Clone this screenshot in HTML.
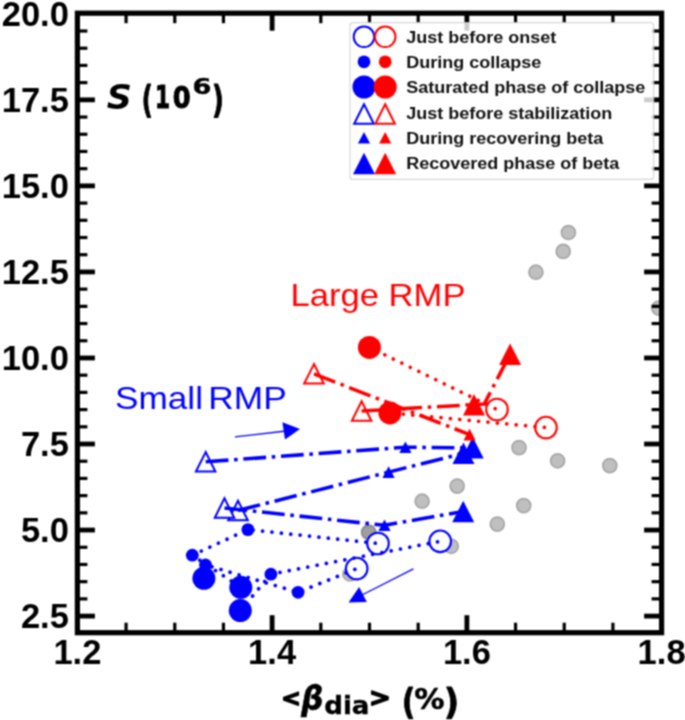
<!DOCTYPE html>
<html lang="en"><head><meta charset="utf-8"><title>S vs beta_dia</title>
<style>
html,body{margin:0;padding:0;background:#fff;}
body{width:685px;height:720px;overflow:hidden;}
svg{display:block;}
.tl{font-family:"Liberation Sans",Arial,sans-serif;font-weight:bold;font-size:34.5px;fill:#000;}
.lg{font-family:"Liberation Sans",Arial,sans-serif;font-weight:bold;font-size:15.6px;fill:#111;}
.ann{font-family:"Liberation Sans",Arial,sans-serif;font-size:32px;}
.mt{font-family:"DejaVu Sans",sans-serif;font-weight:bold;font-size:30px;fill:#000;}
.mi{font-style:oblique;}
</style></head><body>
<svg width="685" height="720" viewBox="0 0 685 720">
<defs><filter id="soft" x="0" y="0" width="100%" height="100%" filterUnits="objectBoundingBox" color-interpolation-filters="sRGB"><feConvolveMatrix order="3" kernelMatrix="1 2 1 2 4 2 1 2 1" divisor="16" edgeMode="duplicate" preserveAlpha="false"/></filter></defs>
<g filter="url(#soft)">
<rect width="685" height="720" fill="#fff"/>
<defs><clipPath id="axclip"><rect x="77.40" y="13.20" width="584.20" height="619.50"/></clipPath></defs>
<g id="graydots" clip-path="url(#axclip)" fill="#808080" fill-opacity="0.5" stroke="#808080" stroke-opacity="0.62" stroke-width="1.5"><circle cx="422.1" cy="501.2" r="7.1"/><circle cx="457.2" cy="486.1" r="7.1"/><circle cx="523.7" cy="505.6" r="7.1"/><circle cx="497.3" cy="524.1" r="7.1"/><circle cx="451.3" cy="546.3" r="7.1"/><circle cx="519.0" cy="447.6" r="7.1"/><circle cx="557.6" cy="460.8" r="7.1"/><circle cx="568.4" cy="232.5" r="7.1"/><circle cx="563.2" cy="251.4" r="7.1"/><circle cx="535.9" cy="272.2" r="7.1"/><circle cx="609.8" cy="465.6" r="7.1"/><circle cx="368.5" cy="532.1" r="7.1"/><circle cx="368.9" cy="532.5" r="7.1"/><circle cx="349.9" cy="574.0" r="7.1"/><circle cx="658.8" cy="308.1" r="7.1"/></g>
<g id="blue">
<circle cx="378.0" cy="543.5" r="10.8" fill="#fff" stroke="#0000ff" stroke-width="2.1"/>
<circle cx="440.2" cy="541.3" r="10.8" fill="#fff" stroke="#0000ff" stroke-width="2.1"/>
<circle cx="356.7" cy="568.6" r="10.8" fill="#fff" stroke="#0000ff" stroke-width="2.1"/>
<circle cx="192.3" cy="555.2" r="6.4" fill="#0000ff"/>
<circle cx="205.5" cy="565.0" r="6.4" fill="#0000ff"/>
<circle cx="247.9" cy="529.6" r="6.4" fill="#0000ff"/>
<circle cx="270.9" cy="574.2" r="6.4" fill="#0000ff"/>
<circle cx="298.1" cy="592.3" r="6.4" fill="#0000ff"/>
<circle cx="203.9" cy="578.3" r="11.5" fill="#0000ff"/>
<circle cx="240.8" cy="587.3" r="11.5" fill="#0000ff"/>
<circle cx="240.3" cy="610.6" r="11.5" fill="#0000ff"/>
<polygon points="205.7,452.1 195.9,471.6 215.4,471.6" fill="#fff" stroke="#0000ff" stroke-width="2.0" stroke-linejoin="miter"/>
<polygon points="238.0,500.8 228.2,520.2 247.8,520.2" fill="#fff" stroke="#0000ff" stroke-width="2.0" stroke-linejoin="miter"/>
<polygon points="224.5,498.2 214.8,517.8 234.2,517.8" fill="#fff" stroke="#0000ff" stroke-width="2.0" stroke-linejoin="miter"/>
<polygon points="405.4,441.4 399.3,453.0 411.5,453.0" fill="#0000ff"/>
<polygon points="388.6,466.3 382.5,477.9 394.7,477.9" fill="#0000ff"/>
<polygon points="384.5,519.5 378.4,531.1 390.6,531.1" fill="#0000ff"/>
<polygon points="463.5,442.6 452.5,464.1 474.5,464.1" fill="#0000ff"/>
<polygon points="472.7,437.1 461.7,458.6 483.7,458.6" fill="#0000ff"/>
<polygon points="463.2,500.8 452.2,522.2 474.2,522.2" fill="#0000ff"/>
<polyline points="378.0,543.5 247.9,529.6 192.3,555.2 240.8,587.3" fill="none" stroke="#0000ff" stroke-width="3.7" stroke-linecap="round" stroke-dasharray="0.01 9.43" stroke-dashoffset="-2.8"/>
<polyline points="356.7,568.6 298.1,592.3 205.5,565.0 203.9,578.3" fill="none" stroke="#0000ff" stroke-width="3.7" stroke-linecap="round" stroke-dasharray="0.01 9.43" stroke-dashoffset="-2.0"/>
<polyline points="440.2,541.3 270.9,574.2 240.3,610.6" fill="none" stroke="#0000ff" stroke-width="3.7" stroke-linecap="round" stroke-dasharray="0.01 9.43" stroke-dashoffset="-2.7"/>
<polyline points="205.7,461.8 405.4,447.2 472.7,447.9" fill="none" stroke="#0000ff" stroke-width="3.56" stroke-dasharray="22.78 5.70 3.56 5.70" stroke-dashoffset="0" stroke-linejoin="round"/>
<polyline points="238.0,510.5 388.6,472.1 463.5,453.3" fill="none" stroke="#0000ff" stroke-width="3.56" stroke-dasharray="22.78 5.70 3.56 5.70" stroke-dashoffset="0" stroke-linejoin="round"/>
<polyline points="224.5,508.0 384.5,525.3 463.2,511.5" fill="none" stroke="#0000ff" stroke-width="3.56" stroke-dasharray="22.78 5.70 3.56 5.70" stroke-dashoffset="0" stroke-linejoin="round"/>
</g>
<g id="red">
<circle cx="497.0" cy="409.5" r="10.8" fill="#fff" stroke="#ff0000" stroke-width="2.1"/>
<circle cx="546.0" cy="427.6" r="10.8" fill="#fff" stroke="#ff0000" stroke-width="2.1"/>
<circle cx="369.4" cy="347.4" r="11.5" fill="#ff0000"/>
<circle cx="389.9" cy="412.9" r="11.5" fill="#ff0000"/>
<polygon points="314.0,364.1 304.2,383.6 323.8,383.6" fill="#fff" stroke="#ff0000" stroke-width="2.0" stroke-linejoin="miter"/>
<polygon points="361.6,401.2 351.9,420.8 371.4,420.8" fill="#fff" stroke="#ff0000" stroke-width="2.0" stroke-linejoin="miter"/>
<polygon points="469.6,428.8 463.5,440.4 475.7,440.4" fill="#ff0000"/>
<polygon points="510.1,343.4 499.1,364.9 521.1,364.9" fill="#ff0000"/>
<polygon points="474.0,393.9 463.0,415.4 485.0,415.4" fill="#ff0000"/>
<polyline points="369.4,347.4 497.0,409.5" fill="none" stroke="#ff0000" stroke-width="3.7" stroke-linecap="round" stroke-dasharray="0.01 9.43" stroke-dashoffset="1.7"/>
<polyline points="389.9,412.9 546.0,427.6" fill="none" stroke="#ff0000" stroke-width="3.7" stroke-linecap="round" stroke-dasharray="0.01 9.43" stroke-dashoffset="-4.1"/>
<polyline points="314.0,373.8 469.6,434.6" fill="none" stroke="#ff0000" stroke-width="3.56" stroke-dasharray="22.78 5.70 3.56 5.70" stroke-dashoffset="0" stroke-linejoin="round"/>
<polyline points="361.6,411.0 484.3,404.0 510.1,354.1" fill="none" stroke="#ff0000" stroke-width="3.56" stroke-dasharray="22.78 5.70 3.56 5.70" stroke-dashoffset="0" stroke-linejoin="round"/>
</g>
<g id="arrows" fill="#0000ff" stroke="#0000ff">
<line x1="234.9" y1="436.9" x2="286" y2="431" stroke-width="1.3"/>
<polygon points="300.0,429.0 282.4,422.3 285.0,439.4" stroke="none"/>
<line x1="413.4" y1="568.9" x2="362" y2="595" stroke-width="1.3"/>
<polygon points="348.5,602.4 366.8,602.1 359.2,586.9" stroke="none"/>
</g>
<g id="ticks" stroke="#000"><line x1="77.40" y1="616.09" x2="94.90" y2="616.09" stroke-width="4.8"/><line x1="661.60" y1="616.09" x2="644.10" y2="616.09" stroke-width="4.8"/><line x1="77.40" y1="598.88" x2="87.40" y2="598.88" stroke-width="3.2"/><line x1="661.60" y1="598.88" x2="651.60" y2="598.88" stroke-width="3.2"/><line x1="77.40" y1="581.68" x2="87.40" y2="581.68" stroke-width="3.2"/><line x1="661.60" y1="581.68" x2="651.60" y2="581.68" stroke-width="3.2"/><line x1="77.40" y1="564.47" x2="87.40" y2="564.47" stroke-width="3.2"/><line x1="661.60" y1="564.47" x2="651.60" y2="564.47" stroke-width="3.2"/><line x1="77.40" y1="547.26" x2="87.40" y2="547.26" stroke-width="3.2"/><line x1="661.60" y1="547.26" x2="651.60" y2="547.26" stroke-width="3.2"/><line x1="77.40" y1="530.05" x2="94.90" y2="530.05" stroke-width="4.8"/><line x1="661.60" y1="530.05" x2="644.10" y2="530.05" stroke-width="4.8"/><line x1="77.40" y1="512.84" x2="87.40" y2="512.84" stroke-width="3.2"/><line x1="661.60" y1="512.84" x2="651.60" y2="512.84" stroke-width="3.2"/><line x1="77.40" y1="495.63" x2="87.40" y2="495.63" stroke-width="3.2"/><line x1="661.60" y1="495.63" x2="651.60" y2="495.63" stroke-width="3.2"/><line x1="77.40" y1="478.43" x2="87.40" y2="478.43" stroke-width="3.2"/><line x1="661.60" y1="478.43" x2="651.60" y2="478.43" stroke-width="3.2"/><line x1="77.40" y1="461.22" x2="87.40" y2="461.22" stroke-width="3.2"/><line x1="661.60" y1="461.22" x2="651.60" y2="461.22" stroke-width="3.2"/><line x1="77.40" y1="444.01" x2="94.90" y2="444.01" stroke-width="4.8"/><line x1="661.60" y1="444.01" x2="644.10" y2="444.01" stroke-width="4.8"/><line x1="77.40" y1="426.80" x2="87.40" y2="426.80" stroke-width="3.2"/><line x1="661.60" y1="426.80" x2="651.60" y2="426.80" stroke-width="3.2"/><line x1="77.40" y1="409.59" x2="87.40" y2="409.59" stroke-width="3.2"/><line x1="661.60" y1="409.59" x2="651.60" y2="409.59" stroke-width="3.2"/><line x1="77.40" y1="392.38" x2="87.40" y2="392.38" stroke-width="3.2"/><line x1="661.60" y1="392.38" x2="651.60" y2="392.38" stroke-width="3.2"/><line x1="77.40" y1="375.18" x2="87.40" y2="375.18" stroke-width="3.2"/><line x1="661.60" y1="375.18" x2="651.60" y2="375.18" stroke-width="3.2"/><line x1="77.40" y1="357.97" x2="94.90" y2="357.97" stroke-width="4.8"/><line x1="661.60" y1="357.97" x2="644.10" y2="357.97" stroke-width="4.8"/><line x1="77.40" y1="340.76" x2="87.40" y2="340.76" stroke-width="3.2"/><line x1="661.60" y1="340.76" x2="651.60" y2="340.76" stroke-width="3.2"/><line x1="77.40" y1="323.55" x2="87.40" y2="323.55" stroke-width="3.2"/><line x1="661.60" y1="323.55" x2="651.60" y2="323.55" stroke-width="3.2"/><line x1="77.40" y1="306.34" x2="87.40" y2="306.34" stroke-width="3.2"/><line x1="661.60" y1="306.34" x2="651.60" y2="306.34" stroke-width="3.2"/><line x1="77.40" y1="289.13" x2="87.40" y2="289.13" stroke-width="3.2"/><line x1="661.60" y1="289.13" x2="651.60" y2="289.13" stroke-width="3.2"/><line x1="77.40" y1="271.93" x2="94.90" y2="271.93" stroke-width="4.8"/><line x1="661.60" y1="271.93" x2="644.10" y2="271.93" stroke-width="4.8"/><line x1="77.40" y1="254.72" x2="87.40" y2="254.72" stroke-width="3.2"/><line x1="661.60" y1="254.72" x2="651.60" y2="254.72" stroke-width="3.2"/><line x1="77.40" y1="237.51" x2="87.40" y2="237.51" stroke-width="3.2"/><line x1="661.60" y1="237.51" x2="651.60" y2="237.51" stroke-width="3.2"/><line x1="77.40" y1="220.30" x2="87.40" y2="220.30" stroke-width="3.2"/><line x1="661.60" y1="220.30" x2="651.60" y2="220.30" stroke-width="3.2"/><line x1="77.40" y1="203.09" x2="87.40" y2="203.09" stroke-width="3.2"/><line x1="661.60" y1="203.09" x2="651.60" y2="203.09" stroke-width="3.2"/><line x1="77.40" y1="185.88" x2="94.90" y2="185.88" stroke-width="4.8"/><line x1="661.60" y1="185.88" x2="644.10" y2="185.88" stroke-width="4.8"/><line x1="77.40" y1="168.68" x2="87.40" y2="168.68" stroke-width="3.2"/><line x1="661.60" y1="168.68" x2="651.60" y2="168.68" stroke-width="3.2"/><line x1="77.40" y1="151.47" x2="87.40" y2="151.47" stroke-width="3.2"/><line x1="661.60" y1="151.47" x2="651.60" y2="151.47" stroke-width="3.2"/><line x1="77.40" y1="134.26" x2="87.40" y2="134.26" stroke-width="3.2"/><line x1="661.60" y1="134.26" x2="651.60" y2="134.26" stroke-width="3.2"/><line x1="77.40" y1="117.05" x2="87.40" y2="117.05" stroke-width="3.2"/><line x1="661.60" y1="117.05" x2="651.60" y2="117.05" stroke-width="3.2"/><line x1="77.40" y1="99.84" x2="94.90" y2="99.84" stroke-width="4.8"/><line x1="661.60" y1="99.84" x2="644.10" y2="99.84" stroke-width="4.8"/><line x1="77.40" y1="82.63" x2="87.40" y2="82.63" stroke-width="3.2"/><line x1="661.60" y1="82.63" x2="651.60" y2="82.63" stroke-width="3.2"/><line x1="77.40" y1="65.43" x2="87.40" y2="65.43" stroke-width="3.2"/><line x1="661.60" y1="65.43" x2="651.60" y2="65.43" stroke-width="3.2"/><line x1="77.40" y1="48.22" x2="87.40" y2="48.22" stroke-width="3.2"/><line x1="661.60" y1="48.22" x2="651.60" y2="48.22" stroke-width="3.2"/><line x1="77.40" y1="31.01" x2="87.40" y2="31.01" stroke-width="3.2"/><line x1="661.60" y1="31.01" x2="651.60" y2="31.01" stroke-width="3.2"/><line x1="126.08" y1="632.70" x2="126.08" y2="622.70" stroke-width="3.2"/><line x1="126.08" y1="13.20" x2="126.08" y2="23.20" stroke-width="3.2"/><line x1="174.77" y1="632.70" x2="174.77" y2="622.70" stroke-width="3.2"/><line x1="174.77" y1="13.20" x2="174.77" y2="23.20" stroke-width="3.2"/><line x1="223.45" y1="632.70" x2="223.45" y2="622.70" stroke-width="3.2"/><line x1="223.45" y1="13.20" x2="223.45" y2="23.20" stroke-width="3.2"/><line x1="272.13" y1="632.70" x2="272.13" y2="615.20" stroke-width="4.8"/><line x1="272.13" y1="13.20" x2="272.13" y2="30.70" stroke-width="4.8"/><line x1="320.82" y1="632.70" x2="320.82" y2="622.70" stroke-width="3.2"/><line x1="320.82" y1="13.20" x2="320.82" y2="23.20" stroke-width="3.2"/><line x1="369.50" y1="632.70" x2="369.50" y2="622.70" stroke-width="3.2"/><line x1="369.50" y1="13.20" x2="369.50" y2="23.20" stroke-width="3.2"/><line x1="418.18" y1="632.70" x2="418.18" y2="622.70" stroke-width="3.2"/><line x1="418.18" y1="13.20" x2="418.18" y2="23.20" stroke-width="3.2"/><line x1="466.87" y1="632.70" x2="466.87" y2="615.20" stroke-width="4.8"/><line x1="466.87" y1="13.20" x2="466.87" y2="30.70" stroke-width="4.8"/><line x1="515.55" y1="632.70" x2="515.55" y2="622.70" stroke-width="3.2"/><line x1="515.55" y1="13.20" x2="515.55" y2="23.20" stroke-width="3.2"/><line x1="564.23" y1="632.70" x2="564.23" y2="622.70" stroke-width="3.2"/><line x1="564.23" y1="13.20" x2="564.23" y2="23.20" stroke-width="3.2"/><line x1="612.92" y1="632.70" x2="612.92" y2="622.70" stroke-width="3.2"/><line x1="612.92" y1="13.20" x2="612.92" y2="23.20" stroke-width="3.2"/></g>
<rect id="spines" x="77.40" y="13.20" width="584.20" height="619.50" fill="none" stroke="#000" stroke-width="5.2"/>
<g id="ticklabels"><text class="tl" transform="translate(68.9,25.5) scale(1.0,1)" text-anchor="end">20.0</text><text class="tl" transform="translate(68.9,111.5) scale(1.0,1)" text-anchor="end">17.5</text><text class="tl" transform="translate(68.9,197.6) scale(1.0,1)" text-anchor="end">15.0</text><text class="tl" transform="translate(68.9,283.6) scale(1.0,1)" text-anchor="end">12.5</text><text class="tl" transform="translate(68.9,369.7) scale(1.0,1)" text-anchor="end">10.0</text><text class="tl" transform="translate(68.9,455.7) scale(1.0,1)" text-anchor="end">7.5</text><text class="tl" transform="translate(68.9,541.8) scale(1.0,1)" text-anchor="end">5.0</text><text class="tl" transform="translate(68.9,627.8) scale(1.0,1)" text-anchor="end">2.5</text><text class="tl" transform="translate(77.4,663.8) scale(1.0,1)" text-anchor="middle">1.2</text><text class="tl" transform="translate(272.1,663.8) scale(1.0,1)" text-anchor="middle">1.4</text><text class="tl" transform="translate(466.9,663.8) scale(1.0,1)" text-anchor="middle">1.6</text><text class="tl" transform="translate(661.6,663.8) scale(1.0,1)" text-anchor="middle">1.8</text></g>
<text class="ann" fill="#ff0000" x="290.5" y="306.2" textLength="175" lengthAdjust="spacingAndGlyphs">Large RMP</text>
<text class="ann" fill="#0000ff" x="115" y="409.2" textLength="88" lengthAdjust="spacingAndGlyphs">Small</text>
<text class="ann" fill="#0000ff" x="208.3" y="409.2" textLength="78.5" lengthAdjust="spacingAndGlyphs">RMP</text>
<g id="ylabel">
<text transform="matrix(1.1609 0 0 1.1320 106.80 108.67)" font-family="DejaVu Sans, sans-serif" font-weight="bold" font-style="italic" font-size="30px" fill="#000">S</text>
<text transform="matrix(0.8000 0 0 1.2543 141.77 111.86)" font-family="DejaVu Sans, sans-serif" font-weight="bold" font-style="normal" font-size="30px" fill="#000" stroke="#000" stroke-width="0.9" vector-effect="non-scaling-stroke" stroke-linejoin="round">(</text>
<text transform="matrix(0.7216 0 0 1.0440 155.08 108.35)" font-family="DejaVu Sans, sans-serif" font-weight="bold" font-style="normal" font-size="30px" fill="#000" stroke="#000" stroke-width="0.9" vector-effect="non-scaling-stroke" stroke-linejoin="round">1</text>
<text transform="matrix(0.8588 0 0 1.0275 172.84 108.17)" font-family="DejaVu Sans, sans-serif" font-weight="bold" font-style="normal" font-size="30px" fill="#000" stroke="#000" stroke-width="0.9" vector-effect="non-scaling-stroke" stroke-linejoin="round">0</text>
<text transform="matrix(0.9080 0 0 0.7227 192.57 94.21)" font-family="DejaVu Sans, sans-serif" font-weight="bold" font-style="normal" font-size="30px" fill="#000" stroke="#000" stroke-width="0.5" vector-effect="non-scaling-stroke" stroke-linejoin="round">6</text>
<text transform="matrix(0.8646 0 0 1.2543 212.02 111.86)" font-family="DejaVu Sans, sans-serif" font-weight="bold" font-style="normal" font-size="30px" fill="#000" stroke="#000" stroke-width="0.9" vector-effect="non-scaling-stroke" stroke-linejoin="round">)</text>
</g>
<g id="xlabel">
<text transform="matrix(0.7805 0 0 0.7804 281.25 706.22)" font-family="DejaVu Sans, sans-serif" font-weight="bold" font-style="normal" font-size="30px" fill="#000" stroke="#000" stroke-width="1.5" vector-effect="non-scaling-stroke" stroke-linejoin="round">&lt;</text>
<text transform="matrix(1.0327 0 0 1.0967 301.18 710.20)" font-family="DejaVu Sans, sans-serif" font-weight="bold" font-style="italic" font-size="30px" fill="#000" stroke="#000" stroke-width="0.6" vector-effect="non-scaling-stroke" stroke-linejoin="round">β</text>
<text transform="matrix(0.8717 0 0 0.8192 324.18 714.32)" font-family="DejaVu Sans, sans-serif" font-weight="bold" font-style="normal" font-size="30px" fill="#000" stroke="#000" stroke-width="0.4" vector-effect="non-scaling-stroke" stroke-linejoin="round">dia</text>
<text transform="matrix(0.8689 0 0 0.8309 368.91 706.24)" font-family="DejaVu Sans, sans-serif" font-weight="bold" font-style="normal" font-size="30px" fill="#000" stroke="#000" stroke-width="1.5" vector-effect="non-scaling-stroke" stroke-linejoin="round">&gt;</text>
<text transform="matrix(0.9600 0 0 1.1991 402.10 713.59)" font-family="DejaVu Sans, sans-serif" font-weight="bold" font-style="normal" font-size="30px" fill="#000" stroke="#000" stroke-width="0.9" vector-effect="non-scaling-stroke" stroke-linejoin="round">(</text>
<text transform="matrix(1.0072 0 0 0.9535 414.31 708.70)" font-family="DejaVu Sans, sans-serif" font-weight="bold" font-style="normal" font-size="30px" fill="#000" stroke="#000" stroke-width="0.5" vector-effect="non-scaling-stroke" stroke-linejoin="round">%</text>
<text transform="matrix(1.1004 0 0 1.1991 443.97 713.59)" font-family="DejaVu Sans, sans-serif" font-weight="bold" font-style="normal" font-size="30px" fill="#000" stroke="#000" stroke-width="0.9" vector-effect="non-scaling-stroke" stroke-linejoin="round">)</text>
</g>
<rect id="legendbox" x="350.0" y="22.6" width="303.6" height="156.7" rx="3" ry="3" fill="#fff" fill-opacity="0.8" stroke="#cccccc" stroke-opacity="0.8" stroke-width="1.2"/>
<g id="legend">
<circle cx="364.0" cy="36.8" r="10.3" fill="none" stroke="#0000ff" stroke-width="2.0"/>
<circle cx="385.2" cy="36.8" r="10.3" fill="none" stroke="#ff0000" stroke-width="2.0"/>
<circle cx="364.0" cy="61.8" r="6.4" fill="#0000ff"/>
<circle cx="385.2" cy="61.8" r="6.4" fill="#ff0000"/>
<circle cx="364.0" cy="87.0" r="11.5" fill="#0000ff"/>
<circle cx="385.2" cy="87.0" r="11.5" fill="#ff0000"/>
<polygon points="364.0,104.2 354.2,123.8 373.8,123.8" fill="none" stroke="#0000ff" stroke-width="2.0" stroke-linejoin="miter"/>
<polygon points="385.2,104.2 375.4,123.8 394.9,123.8" fill="none" stroke="#ff0000" stroke-width="2.0" stroke-linejoin="miter"/>
<polygon points="364.0,132.0 357.9,143.6 370.1,143.6" fill="#0000ff"/>
<polygon points="385.2,132.0 379.1,143.6 391.3,143.6" fill="#ff0000"/>
<polygon points="364.0,152.8 353.0,174.2 375.0,174.2" fill="#0000ff"/>
<polygon points="385.2,152.8 374.2,174.2 396.2,174.2" fill="#ff0000"/>
<text class="lg" transform="translate(406.2,43.0) scale(1.155,1)">Just before onset</text>
<text class="lg" transform="translate(406.2,67.7) scale(1.155,1)">During collapse</text>
<text class="lg" transform="translate(406.2,92.9) scale(1.155,1)">Saturated phase of collapse</text>
<text class="lg" transform="translate(406.2,118.8) scale(1.155,1)">Just before stabilization</text>
<text class="lg" transform="translate(406.2,143.8) scale(1.155,1)">During recovering beta</text>
<text class="lg" transform="translate(406.2,169.3) scale(1.155,1)">Recovered phase of beta</text>
</g>
</g>
</svg></body></html>
